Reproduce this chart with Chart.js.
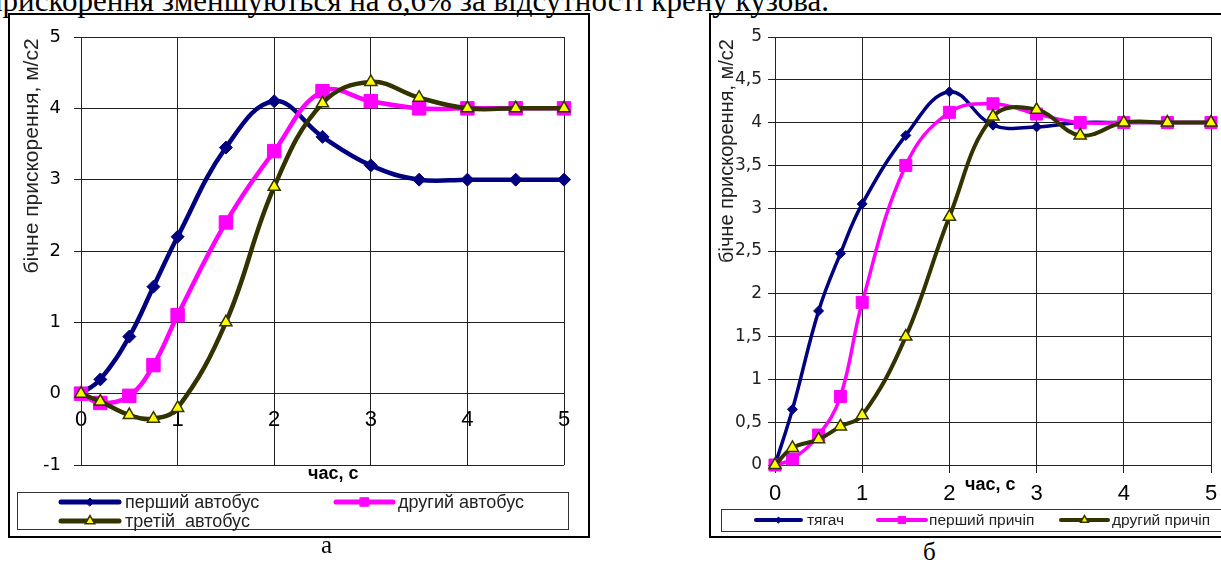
<!DOCTYPE html>
<html>
<head>
<meta charset="utf-8">
<script src="https://cdn.jsdelivr.net/npm/chart.js"></script>
<style>
  html, body { margin: 0; padding: 0; background: #fff; }
  body { width: 1221px; height: 563px; position: relative; overflow: hidden; }
  .txt { position: absolute; font-family: "Liberation Serif", "Times New Roman", serif; color: #000; white-space: nowrap; }
  #top { left: -14px; top: -15px; font-size: 31px; line-height: 31px; }
  .cap { font-size: 25px; line-height: 25px; }
  canvas { position: absolute; }
  #chartA { left: 8px; top: 13px; }
  #chartB { left: 709px; top: 13px; }
</style>
</head>
<body>
<div id="top" class="txt">прискорення зменшуються на 8,6% за відсутності крену кузова.</div>
<canvas id="chartA" width="582" height="525"></canvas>
<canvas id="chartB" width="520" height="525"></canvas>
<div class="txt cap" style="left:321px;top:532px">а</div>
<div class="txt cap" style="left:923px;top:539px">б</div>
<script>
// time points, s
const times = [0, 0.2, 0.5, 0.75, 1, 1.5, 2, 2.5, 3, 3.5, 4, 4.5, 5];

// chart "а" - three buses
const busLabels = ["перший автобус", "другий автобус", "третій  автобус"];
const bus1 = [0, 0.2, 0.8, 1.5, 2.2, 3.45, 4.1, 3.6, 3.2, 3.0, 3.0, 3.0, 3.0];
const bus2 = [0, -0.13, -0.03, 0.4, 1.1, 2.4, 3.4, 4.24, 4.1, 4.0, 4.0, 4.0, 4.0];
const bus3 = [0, -0.11, -0.3, -0.35, -0.2, 1.0, 2.9, 4.07, 4.37, 4.15, 4.0, 4.0, 4.0];
const ticksA = { xMin: 0, xMax: 5, xStep: 1, yMin: -1, yMax: 5, yStep: 1 };

// chart "б" - road train
const trainLabels = ["тягач", "перший причіп", "другий причіп"];
const tractor = [0, 0.65, 1.8, 2.47, 3.05, 3.85, 4.36, 3.97, 3.95, 4.0, 4.0, 4.0, 4.0];
const trailer1 = [0, 0.07, 0.35, 0.8, 1.9, 3.5, 4.12, 4.22, 4.1, 4.0, 4.0, 4.0, 4.0];
const trailer2 = [0, 0.2, 0.3, 0.45, 0.58, 1.5, 2.9, 4.07, 4.15, 3.85, 4.0, 4.0, 4.0];
const ticksB = { xMin: 0, xMax: 5, xStep: 1, yMin: 0, yMax: 5, yStep: 0.5 };

const yTitle = "бічне прискорення, м/с2";
const xTitle = "час, с";

const NAVY = "#000080", MAGENTA = "#FF00FF", OLIVE = "#333300", YELLOW = "#FFFF00";
const GRID = "#222";

function pts(values) {
  return values.map((v, i) => ({ x: times[i], y: v }));
}

function marker(ctx, style, x, y, r, fill, stroke, bw) {
  ctx.beginPath();
  if (style === "rectRot") {
    ctx.moveTo(x - r, y); ctx.lineTo(x, y - r); ctx.lineTo(x + r, y); ctx.lineTo(x, y + r);
  } else if (style === "rect") {
    const s = r * Math.SQRT1_2;
    ctx.rect(x - s, y - s, 2 * s, 2 * s);
  } else {
    ctx.moveTo(x, y - r); ctx.lineTo(x + r * 0.866, y + r / 2); ctx.lineTo(x - r * 0.866, y + r / 2);
  }
  ctx.closePath();
  ctx.fillStyle = fill;
  ctx.fill();
  if (bw) { ctx.lineWidth = bw; ctx.strokeStyle = stroke; ctx.stroke(); }
}

// frame, axis titles and boxed legend like the Excel original
const decor = {
  id: "decor",
  afterDraw(chart, args, o) {
    const ctx = chart.ctx;
    ctx.save();
    ctx.strokeStyle = "#000";
    ctx.lineWidth = 2;
    ctx.strokeRect(1, 1, o.frameW - 2, chart.height - 2);

    ctx.fillStyle = "#222";
    ctx.font = o.yTitleFont;
    ctx.textAlign = "center";
    ctx.textBaseline = "middle";
    ctx.translate(o.yTitleX, o.yTitleY);
    ctx.rotate(-Math.PI / 2);
    ctx.fillText(yTitle, 0, 0);
    ctx.setTransform(1, 0, 0, 1, 0, 0);

    ctx.fillStyle = "#000";
    ctx.font = "bold 18px 'Liberation Sans', Arial, sans-serif";
    ctx.textAlign = "left";
    ctx.fillText(xTitle, o.xTitleX, o.xTitleY);

    const lg = o.legend;
    ctx.strokeStyle = "#333";
    ctx.lineWidth = 1;
    ctx.strokeRect(lg.x + 0.5, lg.y + 0.5, lg.w, lg.h);
    ctx.font = lg.font;
    chart.data.datasets.forEach((ds, i) => {
      const it = lg.items[i];
      ctx.beginPath();
      ctx.moveTo(it.x1, it.y);
      ctx.lineTo(it.x2, it.y);
      ctx.strokeStyle = ds.borderColor;
      ctx.lineWidth = lg.lineW;
      ctx.lineCap = "round";
      ctx.stroke();
      marker(ctx, ds.pointStyle, (it.x1 + it.x2) / 2, it.y, lg.r[i], ds.pointBackgroundColor, ds.pointBorderColor, ds.pointBorderWidth);
      ctx.fillStyle = "#222";
      ctx.textBaseline = "middle";
      ctx.fillText(ds.label, it.tx, it.y + 1);
    });
    ctx.restore();
  }
};

function dataset(label, values, color, style, radius, fill, lineW, order) {
  return {
    label: label,
    data: pts(values),
    borderColor: color,
    backgroundColor: color,
    borderWidth: lineW,
    pointStyle: style,
    pointRadius: radius,
    pointBackgroundColor: fill,
    pointBorderColor: color,
    pointBorderWidth: style === "triangle" ? 1.5 : 1,
    tension: 0.4,
    clip: false,
    order: order
  };
}

const sans = "'Liberation Sans', Arial, sans-serif";
const wide = "'DejaVu Sans', sans-serif";

new Chart(document.getElementById("chartA"), {
  type: "line",
  data: {
    datasets: [
      dataset(busLabels[0], bus1, NAVY, "rectRot", 6.5, NAVY, 4.5, 2),
      dataset(busLabels[1], bus2, MAGENTA, "rect", 9.5, MAGENTA, 4.5, 1),
      dataset(busLabels[2], bus3, OLIVE, "triangle", 7, YELLOW, 4.5, 0)
    ]
  },
  options: {
    responsive: false,
    animation: false,
    devicePixelRatio: 1,
    layout: { padding: { left: 0, top: 24, right: 26, bottom: 73 } },
    plugins: {
      legend: { display: false },
      tooltip: { enabled: false },
      decor: {
        frameW: 582,
        yTitleX: 24, yTitleY: 143, yTitleFont: "21px " + sans,
        xTitleX: 300, xTitleY: 461,
        legend: {
          x: 9, y: 479, w: 551, h: 37, font: "18px " + sans, lineW: 5, r: [4, 6, 5.5],
          items: [
            { x1: 53, x2: 111, y: 489, tx: 117 },
            { x1: 328, x2: 385, y: 489, tx: 390 },
            { x1: 53, x2: 111, y: 508, tx: 117 }
          ]
        }
      }
    },
    scales: {
      x: {
        type: "linear",
        min: ticksA.xMin, max: ticksA.xMax,
        position: { y: 0 },
        afterFit: s => { s.height = 0; },
        ticks: { stepSize: ticksA.xStep, padding: 13, color: "#000", font: { family: sans, size: 22 }, maxRotation: 0 },
        grid: { color: GRID, lineWidth: 1, drawTicks: false },
        border: { color: GRID }
      },
      y: {
        min: ticksA.yMin, max: ticksA.yMax,
        afterFit: s => { s.width = 73; },
        ticks: { stepSize: ticksA.yStep, padding: 13, color: "#000", font: { family: wide, size: 18 },
          callback: v => (v < 0 ? "-" + Math.abs(v) : String(v)) },
        grid: { color: GRID, lineWidth: 1, tickLength: 7 },
        border: { color: GRID }
      }
    }
  },
  plugins: [decor]
});

new Chart(document.getElementById("chartB"), {
  type: "line",
  data: {
    datasets: [
      dataset(trainLabels[0], tractor, NAVY, "rectRot", 5, NAVY, 3.5, 2),
      dataset(trainLabels[1], trailer1, MAGENTA, "rect", 8.5, MAGENTA, 3.5, 1),
      dataset(trainLabels[2], trailer2, OLIVE, "triangle", 7, YELLOW, 4, 0)
    ]
  },
  options: {
    responsive: false,
    animation: false,
    devicePixelRatio: 1,
    layout: { padding: { left: 0, top: 24, right: 18, bottom: 23 } },
    plugins: {
      legend: { display: false },
      tooltip: { enabled: false },
      decor: {
        frameW: 540,
        yTitleX: 18, yTitleY: 138, yTitleFont: "20px " + sans,
        xTitleX: 256, xTitleY: 472,
        legend: {
          x: 12, y: 496, w: 520, h: 22, font: "15.5px " + sans, lineW: 4, r: [3, 5, 4.5],
          items: [
            { x1: 47, x2: 92, y: 507, tx: 98 },
            { x1: 169, x2: 217, y: 507, tx: 220 },
            { x1: 352, x2: 399, y: 507, tx: 403 }
          ]
        }
      }
    },
    scales: {
      x: {
        type: "linear",
        min: ticksB.xMin, max: ticksB.xMax,
        position: "bottom",
        afterFit: s => { s.height = 50; },
        ticks: { stepSize: ticksB.xStep, padding: 8, color: "#000", font: { family: sans, size: 22 }, maxRotation: 0 },
        grid: { color: GRID, lineWidth: 1, tickLength: 8 },
        border: { color: GRID }
      },
      y: {
        min: ticksB.yMin, max: ticksB.yMax,
        afterFit: s => { s.width = 66; },
        ticks: { stepSize: ticksB.yStep, padding: 6, color: "#222", font: { family: wide, size: 17 },
          callback: v => String(v).replace(".", ",") },
        grid: { color: GRID, lineWidth: 1, tickLength: 7 },
        border: { color: GRID }
      }
    }
  },
  plugins: [decor]
});
</script>
</body>
</html>
